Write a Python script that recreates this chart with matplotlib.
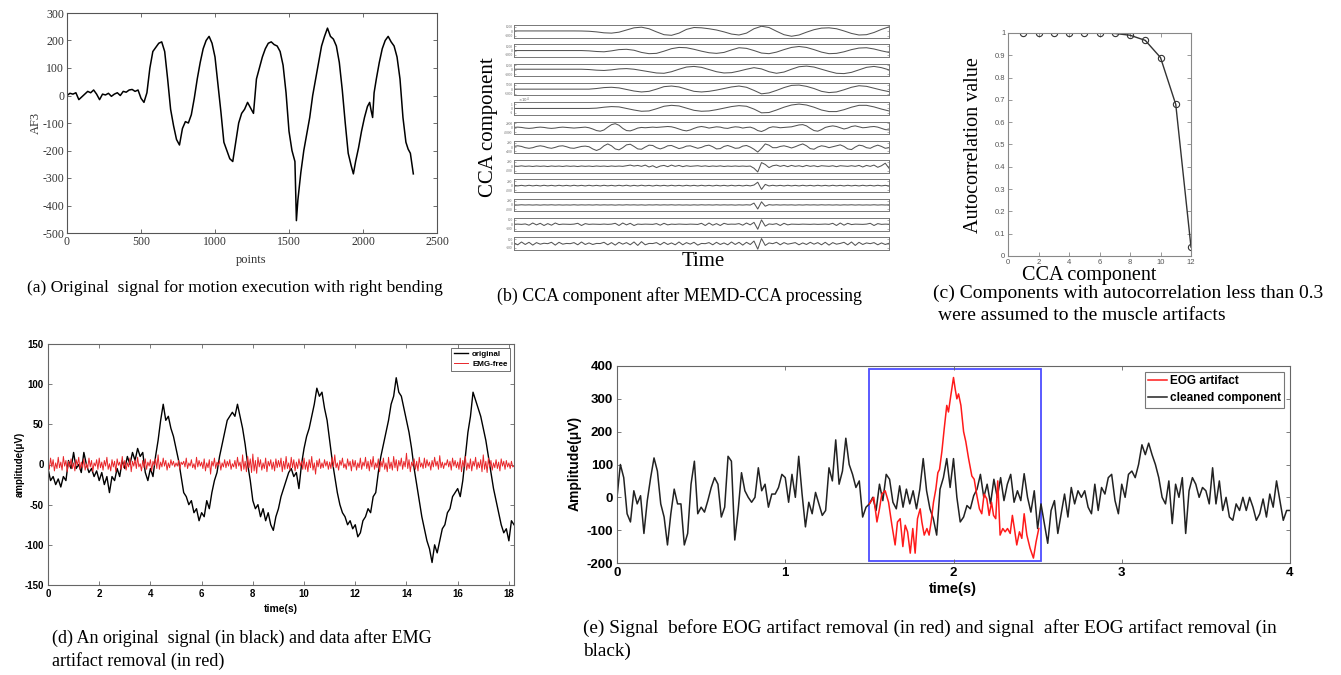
import numpy as np
import matplotlib
matplotlib.use('Agg')
import matplotlib.pyplot as plt
from matplotlib.patches import Rectangle

SERIF = 'Liberation Serif'
SANS = 'Liberation Sans'
plt.rcParams['font.family'] = [SERIF, 'DejaVu Sans']
plt.rcParams['axes.unicode_minus'] = False

W, H = 1341, 675

# ─── (a) original AF3 signal ────────────────────────────────────────────────
a_points = [0, 20, 40, 60, 80, 100, 120, 140, 160, 180, 200, 220, 240, 260, 280, 300,
            320, 340, 360, 380, 400, 420, 440, 460, 480, 500, 520, 540, 560, 580, 600,
            620, 640, 660, 680, 700, 720, 740, 760, 780, 800, 820, 840, 860, 880, 900,
            920, 940, 960, 980, 1000, 1020, 1040, 1060, 1080, 1100, 1120, 1140, 1160,
            1180, 1200, 1220, 1240, 1260, 1280, 1300, 1320, 1340, 1360, 1380, 1400,
            1420, 1440, 1460, 1480, 1500, 1520, 1540, 1550, 1560, 1580, 1600, 1620,
            1640, 1660, 1680, 1700, 1720, 1740, 1760, 1780, 1800, 1820, 1840, 1860,
            1880, 1900, 1920, 1935, 1950, 1970, 1990, 2010, 2030, 2045, 2055, 2065,
            2075, 2090, 2110, 2130, 2150, 2170, 2190, 2210, 2230, 2250, 2270, 2290,
            2305, 2320, 2340]
a_af3 = [0, 8, 5, 10, -15, -5, 5, 15, 10, 20, 5, -15, 5, 2, 8, -3,
         5, 10, 0, 15, 12, 20, 22, 15, 20, -10, -25, 10, 100, 160, 175,
         190, 195, 160, 60, -50, -110, -160, -180, -120, -95, -100, -70, -10, 60, 120,
         170, 200, 215, 190, 140, 40, -60, -170, -200, -230, -240, -170, -100,
         -65, -50, -25, -45, -65, 60, 100, 140, 170, 190, 195, 185,
         180, 160, 110, 10, -130, -200, -240, -455, -380, -280, -200, -140,
         -80, 0, 60, 120, 180, 215, 245, 215, 205, 180, 120, 20,
         -100, -210, -255, -285, -240, -190, -130, -80, -40, -25, -55, -80,
         10, 60, 120, 170, 200, 215, 195, 180, 140, 60, -80, -170,
         -195, -210, -285]

# ─── (b) CCA components (normalised to each strip) ─────────────────────────
cca_1 = [0.05, 0.05, 0.05, 0.05, 0.05, 0.05, 0.05, 0.05, 0.05, 0.04, 0.0,
         -0.1, -0.25, -0.3, -0.15, 0.2, 0.55, 0.65, 0.4, -0.1, -0.55, -0.65, -0.3, 0.3, 0.6,
         0.55, 0.4, 0.2, -0.1, -0.45, -0.6, -0.3, 0.4, 0.8, 0.6, 0.0, -0.55, -0.8, -0.6,
         -0.15, 0.25, 0.5, 0.55, 0.4, 0.05, -0.35, -0.6, -0.55, -0.2, 0.3, 0.7]
cca_2 = [0.0, 0.0, 0.0, 0.0, 0.0, 0.0, 0.0, 0.0, 0.0, 0.0,
         -0.05, -0.15, -0.2, -0.05, 0.15, 0.2, 0.05, -0.3, -0.5, -0.45, -0.1, 0.3, 0.5,
         0.45, 0.2, -0.1, -0.35, -0.45, -0.3, 0.1, 0.45, 0.35, 0.0, -0.4, -0.5, -0.25,
         0.15, 0.5, 0.65, 0.5, 0.15, -0.25, -0.5, -0.45, -0.2, 0.15, 0.4, 0.45, 0.25,
         -0.05, -0.3]
cca_3 = [0.1, 0.1, 0.1, 0.1, 0.1, 0.1, 0.1, 0.1, 0.1, 0.1,
         0.05, -0.05, -0.1, 0.0, 0.15, 0.2, 0.1, -0.1, -0.3, -0.5, -0.55, -0.3, 0.1,
         0.45, 0.55, 0.4, 0.05, -0.3, -0.5, -0.45, -0.2, 0.1, 0.35, 0.15, -0.3, -0.55,
         -0.35, 0.1, 0.5, 0.6, 0.45, 0.1, -0.25, -0.55, -0.6, -0.4, 0.0, 0.4, 0.55,
         0.35, 0.0]
cca_4 = [0.0, 0.0, 0.0, 0.0, 0.0, 0.0, 0.0, 0.0, 0.0, 0.0,
         0.0, 0.1, 0.25, 0.3, 0.2, -0.05, -0.3, -0.45, -0.35, 0.0, 0.4, 0.5, 0.35,
         0.0, -0.35, -0.45, -0.35, -0.15, 0.1, 0.35, 0.5, 0.3, -0.2, -0.75, -0.6, -0.2,
         0.25, 0.6, 0.65, 0.45, 0.1, -0.35, -0.55, -0.45, -0.1, 0.3, 0.55, 0.45, 0.15,
         -0.15, -0.4]
cca_5 = [0.0, 0.0, 0.0, 0.0, 0.0, 0.0, 0.0, 0.0, 0.0, 0.0,
         0.0, 0.05, 0.2, 0.3, 0.25, 0.0, -0.25, -0.45, -0.4, -0.05, 0.35, 0.5, 0.4,
         0.05, -0.3, -0.45, -0.4, -0.2, 0.05, 0.3, 0.45, 0.35, -0.1, -0.7, -0.65, -0.25,
         0.2, 0.55, 0.7, 0.55, 0.2, -0.25, -0.5, -0.5, -0.2, 0.2, 0.5, 0.5, 0.25,
         -0.1, -0.4]
cca_6 = [0.05, 0.1, 0.05, -0.05, -0.1, -0.05, 0.05, 0.1, 0.05, -0.05,
         -0.1, -0.05, 0.05, 0.1, 0.05, 0.0, -0.05, 0.0, 0.05, 0.1,
         0.0, -0.2, -0.45, -0.55, -0.35, 0.1, 0.5, 0.65, 0.4, -0.1,
         -0.45, -0.5, -0.3, -0.05, 0.05, 0.0, 0.05, 0.1, 0.05, 0.1,
         0.15, 0.2, 0.15, 0.0, -0.2, -0.4, -0.5, -0.35, -0.1, 0.1,
         0.2, 0.1, -0.05, 0.05, 0.15, 0.1, -0.05, -0.1, 0.05, 0.15,
         0.1, -0.05, 0.05, 0.1, -0.1, -0.45, -0.6, -0.35, 0.0, 0.15,
         0.1, 0.0, 0.05, 0.1, 0.15, 0.3, 0.45, 0.5, 0.3, -0.1,
         -0.45, -0.55, -0.3, 0.05, 0.2, 0.3, 0.2, 0.0, -0.2, -0.05,
         0.2, 0.3, 0.15, 0.0, 0.05, 0.15, 0.2, 0.1, -0.1, -0.3, -0.35]
cca_7 = [0.1, 0.2, 0.1, -0.1, -0.2, -0.1, 0.1, 0.2, 0.1, -0.1,
         -0.2, -0.05, 0.15, 0.2, 0.05, -0.15, -0.2, -0.05, 0.1, 0.15,
         0.05, -0.3, -0.55, -0.3, 0.2, 0.5, 0.2, -0.3, -0.45, -0.1,
         0.35, 0.45, 0.1, -0.3, -0.35, 0.0, 0.3, 0.25, -0.1, -0.3,
         -0.1, 0.2, 0.25, 0.0, -0.25, -0.1, 0.15, 0.2, 0.0, -0.2,
         -0.05, 0.2, 0.3, 0.05, -0.3, -0.25, 0.1, 0.25, 0.05, -0.2,
         -0.15, 0.15, 0.25, 0.0, -0.35, -0.8, -0.2, 0.5, 0.3, -0.1,
         -0.1, 0.1, 0.2, 0.05, -0.15, 0.05, 0.3, 0.5, 0.2, -0.25,
         -0.35, 0.0, 0.2, 0.1, -0.1, 0.05, 0.2, 0.35, 0.1, -0.3,
         -0.4, 0.0, 0.3, 0.2, -0.1, -0.2, 0.1, 0.3, 0.1, -0.2, -0.1]
cca_8 = [0.05, 0.0, 0.08, 0.0, 0.05, -0.02, 0.06, 0.0, 0.05, -0.03,
         0.06, 0.0, 0.05, -0.02, 0.07, 0.0, 0.05, -0.03, 0.06, 0.0,
         0.05, -0.02, 0.06, 0.0, 0.05, -0.02, 0.06, 0.0, 0.05, 0.0,
         0.1, 0.2, 0.05, 0.15, 0.0, 0.2, -0.1, 0.1, -0.2, 0.05,
         0.15, -0.05, 0.2, 0.0, 0.15, -0.05, 0.1, 0.0, 0.05, 0.1,
         0.0, 0.08, -0.02, 0.06, 0.0, 0.08, -0.02, 0.05, 0.0, 0.06,
         0.0, 0.05, 0.0, 0.05, -0.3, -0.9, 0.6, 0.3, -0.2, 0.1,
         0.2, 0.0, 0.15, -0.05, 0.15, 0.0, 0.1, -0.05, 0.15, 0.0,
         0.1, -0.05, 0.1, 0.05, 0.0, 0.1, -0.05, 0.1, 0.05, 0.0,
         0.1, 0.0, 0.15, -0.1, 0.15, 0.0, 0.2, -0.15, 0.1, 0.5, -0.3]
cca_9 = [0.06, -0.04, 0.05, -0.05, 0.06, -0.04, 0.05, -0.05, 0.06, -0.04,
         0.05, -0.05, 0.06, -0.04, 0.05, -0.05, 0.06, -0.04, 0.05, -0.05,
         0.06, -0.04, 0.05, -0.05, 0.06, -0.04, 0.05, -0.05, 0.06, -0.04,
         0.07, -0.06, 0.05, -0.05, 0.07, -0.04, 0.05, -0.06, 0.06, -0.04,
         0.05, -0.05, 0.06, -0.04, 0.05, -0.05, 0.06, -0.04, 0.05, -0.05,
         0.06, -0.04, 0.05, -0.05, 0.06, -0.04, 0.05, -0.05, 0.06, -0.04,
         0.05, -0.05, 0.06, -0.04, 0.1, 0.55, -0.6, 0.2, -0.05, 0.06,
         -0.04, 0.05, -0.05, 0.06, -0.04, 0.05, -0.05, 0.06, -0.04, 0.05,
         -0.05, 0.06, -0.04, 0.05, -0.05, 0.06, -0.04, 0.05, -0.05, 0.06,
         -0.04, 0.05, -0.05, 0.06, -0.04, 0.05, -0.05, 0.06, -0.04, 0.05, -0.05]
cca_10 = [0.02, -0.02, 0.03, -0.01, 0.02, -0.02, 0.02, -0.03, 0.02, -0.01,
          0.03, -0.02, 0.02, -0.02, 0.01, -0.02, 0.03, -0.02, 0.02, -0.01,
          0.02, -0.02, 0.03, -0.02, 0.02, -0.01, 0.02, -0.03, 0.02, -0.02,
          0.03, -0.01, 0.02, -0.02, 0.02, -0.03, 0.02, -0.01, 0.03, -0.02,
          0.02, -0.01, 0.03, -0.02, 0.02, -0.02, 0.01, -0.03, 0.02, -0.02,
          0.03, -0.01, 0.02, -0.02, 0.03, -0.02, 0.02, -0.01, 0.02, -0.03,
          0.02, -0.02, 0.03, -0.02, 0.3, -0.65, 0.5, -0.2, 0.05, -0.02,
          0.03, -0.02, 0.02, -0.01, 0.02, -0.03, 0.02, -0.02, 0.03, -0.01,
          0.02, -0.02, 0.03, -0.01, 0.02, -0.02, 0.02, -0.03, 0.02, -0.01,
          0.03, -0.02, 0.02, -0.02, 0.01, -0.02, 0.03, -0.02, 0.02, -0.01, 0.02]
cca_11 = [0.0, 0.02, -0.02, 0.05, -0.15, 0.2, -0.1, 0.15, -0.2, 0.1,
          -0.15, 0.2, -0.05, 0.02, 0.0, -0.02, 0.02, 0.15, -0.2, 0.1,
          -0.02, 0.02, 0.0, -0.02, 0.03, -0.02, 0.02, 0.15, -0.2, 0.2,
          -0.1, 0.15, -0.2, 0.03, -0.02, 0.02, 0.0, -0.02, 0.1, -0.15,
          0.15, -0.1, 0.02, -0.02, 0.03, 0.0, -0.02, 0.02, 0.0, -0.03,
          0.15, -0.2, 0.2, -0.15, 0.1, -0.2, 0.15, -0.02, 0.02, 0.0,
          0.1, -0.15, 0.2, -0.1, 0.3, -0.8, 0.7, -0.3, 0.05, -0.02,
          0.1, -0.2, 0.15, -0.1, 0.02, 0.0, -0.02, 0.02, 0.0, -0.02,
          0.02, -0.02, 0.0, 0.03, -0.02, 0.15, -0.2, 0.2, -0.15, 0.15,
          -0.05, 0.02, 0.0, -0.02, 0.02, 0.15, -0.2, 0.1, -0.02, 0.02, 0.0]
cca_12 = [0.1, -0.2, 0.25, -0.15, 0.2, -0.25, 0.15, -0.1, 0.05, -0.02,
          0.2, -0.25, 0.2, -0.1, 0.02, -0.02, 0.15, -0.2, 0.25, -0.15,
          0.1, -0.15, 0.02, 0.0, 0.2, -0.2, 0.15, -0.25, 0.2, -0.1,
          0.15, -0.2, 0.25, -0.3, 0.3, -0.2, 0.02, 0.0, 0.15, -0.2,
          0.2, -0.15, 0.1, -0.2, 0.25, -0.2, 0.15, -0.1, 0.2, -0.25,
          0.02, -0.02, 0.15, -0.2, 0.2, -0.15, 0.1, -0.2, 0.25, -0.15,
          0.2, -0.25, 0.2, -0.15, 0.4, -0.9, 0.8, -0.3, 0.1, -0.02,
          0.2, -0.2, 0.15, -0.1, 0.02, 0.15, -0.2, 0.1, -0.15, 0.2,
          -0.1, 0.15, -0.2, 0.2, -0.25, 0.15, -0.1, 0.02, 0.2, -0.2,
          0.25, -0.3, 0.2, -0.15, 0.1, -0.02, 0.15, -0.2, 0.1, -0.15, 0.05]
cca_series = [cca_1, cca_2, cca_3, cca_4, cca_5, cca_6,
              cca_7, cca_8, cca_9, cca_10, cca_11, cca_12]
cca_ticklabels = [['1000', '0', '-1000'], ['1000', '0', '-1000'], ['1000', '0', '-1000'],
                  ['5000', '0', '-5000'], ['1', '0', '-1'], ['2000', '0', '-2000'],
                  ['200', '0', '-400'], ['200', '0', '-200'], ['200', '0', '-200'],
                  ['200', '0', '-200'], ['100', '0', '-100'], ['100', '0', '-100']]

# ─── (c) autocorrelation per component ─────────────────────────────────────
c_component = [1, 2, 3, 4, 5, 6, 7, 8, 9, 10, 11, 12]
c_autocorr = [1.0, 1.0, 1.0, 1.0, 1.0, 1.0, 0.998, 0.99, 0.967, 0.89, 0.68, 0.04]

# ─── (d) original vs EMG-free (sampled every 0.1 s / 0.05 s) ───────────────
d_original = [-5, -20, -15, -25, -18, -28, -15, -20, 5, -5, 15, -5, 0, -10, 15, 0, -10, -5,
              -15, -8, -20, -10, -25, -15, -35, -15, -20, -5, -15, 5, -5, 10, 0, 15, 5, 20,
              10, 15, -10, -20, -5, -15, 10, 30, 55, 75, 55, 60, 45, 35, 20, 5, -15, -35,
              -40, -50, -45, -60, -55, -70, -60, -65, -45, -55, -35, -20, -10, 10, 25, 40,
              55, 60, 65, 60, 75, 60, 45, 25, 0, -20, -45, -55, -50, -65, -55, -70, -60,
              -75, -82, -65, -55, -40, -30, -20, -10, -5, -15, -10, -30, 0, 20, 35, 45, 60,
              75, 95, 85, 90, 70, 55, 30, 5, -15, -35, -50, -60, -65, -75, -70, -80, -75,
              -90, -85, -70, -65, -55, -60, -40, -35, -10, 10, 25, 40, 55, 75, 85, 108, 90,
              85, 70, 55, 40, 20, -5, -25, -45, -65, -80, -95, -105, -122, -100, -110, -95,
              -80, -75, -60, -55, -40, -35, -30, -40, -20, 10, 40, 60, 90, 80, 70, 60, 45,
              30, 10, -10, -30, -45, -60, -75, -85, -80, -95, -70, -75]
d_emg_free = [4, -6, 8, -3, 6, -8, 2, -5, 9, -4, 3, -7, 10, -2, 5, -9, 4, -3, 7, -5,
              2, -8, 6, -1, 9, -6, 3, -4, 7, -7, 1, -5, 8, -3, 5, -9, 2, -2, 6, -6,
              8, -4, 3, -7, 5, -2, 9, -6, 1, -8, 6, -3, 4, -9, 7, -1, 3, -6, 10, -4,
              5, -7, 2, -3, 8, -9, 4, -2, 6, -5, 9, -3, 1, -8, 5, -4, 7, -6, 3, -2,
              6, -8, 4, -1, 7, -5, 12, -6, 3, -3, 8, -2, 5, -7, 2, -4, 6, -1, 4, -3,
              2, -2, 5, -6, 3, 0, 4, -3, 8, -5, 2, -2, 6, -4, 1, -6, 9, -3, 5, -2,
              3, -5, 7, -8, 2, -4, 6, -12, 4, -2, 8, -5, 3, -1, 5, -7, 2, -3, 6, -4,
              4, -2, 6, -6, 1, -3, 5, -5, 9, -2, 3, -8, 12, -6, 4, -9, 10, -4, 7, -10,
              13, -8, 5, -11, 9, -3, 6, -7, 2, -5, 8, -9, 4, -2, 6, -6, 3, -8, 7, -4,
              5, -3, 8, -9, 4, -6, 10, -5, 2, -7, 9, -4, 6, -8, 3, -5, 7, -2, 4, -6,
              8, -6, 3, -9, 6, -4, 10, -7, 2, -12, 5, -3, 7, -5, 2, -4, 6, -2, 4, -6,
              3, -5, 9, -3, 12, -4, 2, -7, 5, -1, 8, -4, 1, -6, 7, -2, 4, -8, 6, -3,
              5, -7, 2, -4, 8, -6, 3, -2, 9, -5, 4, -8, 6, -3, 10, -6, 2, -4, 7, -9,
              4, -3, 8, -6, 2, -9, 9, -5, 3, -7, 10, -4, 6, -8, 5, -2, 8, -6, 4, -3,
              14, -5, 6, -9, 3, -2, 7, -6, 4, -8, 9, -3, 2, -5, 8, -4, 6, -2, 3, -7,
              5, -3, 9, -2, 4, -6, 11, -4, 3, -5, 2, -1, 6, -3, 4, -7, 8, -2, 5, -4,
              3, -6, 8, -9, 5, -3, 10, -7, 2, -5, 7, -8, 4, -2, 9, -6, 3, -4, 6, -9,
              12, -6, 4, -10, 8, -3, 5, -7, 2, -4, 6, -5, 3, -8, 7, -2, 4, -6, 5, -3,
              2, -5, 4, -3, -2]

# ─── (e) EOG artifact removal (every 0.02 s) ───────────────────────────────
e_cleaned = [0, 100, 60, -50, -75, 20, -20, 5, -110, -10, 60, 120, 80, -20, -60, -145, -50, 25, -20, -20,
             -145, -110, 40, 110, -50, -30, -45, -10, 30, 60, 40, -60, -30, 125, 110, -130, -40, 75, 20, 0,
             -15, 0, 90, 20, 40, -30, 10, 10, 30, 70, 60, -15, 70, 0, 125, 10, -90, -15, -50, 15,
             -20, -55, -40, 90, 50, 175, 40, 80, 180, 100, 70, 30, 50, -60, -30, -20, 0, -40, 40, -10,
             70, 55, -15, -35, 35, -30, 25, -20, 20, -35, 25, 118, 20, -35, -65, -115, 25, 60, 118, 30,
             118, 0, -75, -60, -25, -35, 5, 25, 70, 0, 40, -20, 55, 0, 60, -10, 40, 70, -15, 20,
             -10, 72, 0, -45, 20, -95, -20, -80, -140, -40, -10, -110, -50, 10, -60, 30, -20, 20, 0, 20,
             -30, -50, 40, -40, 30, 10, 60, 70, -10, -50, 40, 0, 70, 80, 60, 100, 160, 130, 165, 130,
             100, 60, 0, -20, 50, -80, 40, 0, 60, -110, 20, 60, 40, 0, 30, 20, -20, 90, -20, 50,
             -40, 0, -60, -70, -20, -40, 0, -40, 0, -30, -70, -50, -5, -60, 10, -30, 50, -10, -70, -40, -40]
e_artifact_t = [1.5, 1.526, 1.545, 1.56, 1.574, 1.594, 1.614, 1.634, 1.653, 1.667,
                1.683, 1.699, 1.713, 1.727, 1.743, 1.758, 1.772, 1.786, 1.802, 1.812,
                1.826, 1.842, 1.855, 1.867, 1.881, 1.895, 1.907, 1.917, 1.931, 1.945,
                1.96, 1.97, 1.984, 2.0, 2.01, 2.02, 2.03, 2.044, 2.06, 2.073,
                2.089, 2.109, 2.123, 2.139, 2.154, 2.168, 2.182, 2.198, 2.212, 2.226,
                2.238, 2.251, 2.263, 2.277, 2.293, 2.307, 2.321, 2.337, 2.35, 2.362,
                2.376, 2.392, 2.406, 2.42, 2.436, 2.455, 2.475, 2.491, 2.507]
e_artifact = [-20, 0, -75, -35, 10, 20, -15, -85, -145, -75,
              -65, -150, -85, -105, -170, -95, -170, -65, -35, -75,
              -115, -95, -115, -75, -15, 25, 75, 85, 140, 210,
              280, 260, 310, 365, 330, 300, 315, 280, 200, 170,
              120, 65, 55, 5, -35, -50, 10, -5, -55, -15,
              -55, -65, 50, -115, -95, -105, -95, -110, -55, -95,
              -145, -105, -125, -50, -115, -155, -185, -135, -95]
e_window = (1.5, 2.52, -193, 392)


def box(x0, y0, x1, y1):
    return [x0 / W, 1 - y1 / H, (x1 - x0) / W, (y1 - y0) / H]


def put(x, y, s, **kw):
    kw.setdefault('ha', 'center')
    kw.setdefault('va', 'center')
    fig.text(x / W, 1 - y / H, s, **kw)


def matlab_box(ax, color='#666666'):
    for sp in ax.spines.values():
        sp.set_color(color)
        sp.set_linewidth(0.8)
    ax.tick_params(direction='in', top=True, right=True, length=3, width=0.6, color=color)


fig = plt.figure(figsize=(W / 100, H / 100), dpi=100)

# ─── (a) ───────────────────────────────────────────────────────────────────
ax = fig.add_axes(box(67, 13, 437, 233))
ax.plot(a_points, a_af3, color='black', lw=1.1)
ax.set_xlim(0, 2500)
ax.set_ylim(-500, 300)
ax.set_xticks(range(0, 2501, 500))
ax.set_yticks(range(-500, 301, 100))
matlab_box(ax, '#555555')
ax.tick_params(labelsize=8.5, labelcolor='#333333', pad=2)
put(36, 123, 'AF3', rotation=90, fontsize=9, color='#333333')
put(251, 260, 'points', fontsize=9, color='#333333')
put(27, 288, '(a) Original  signal for motion execution with right bending',
    ha='left', fontsize=12.5)

# ─── (b) ───────────────────────────────────────────────────────────────────
for i, vals in enumerate(cca_series):
    top = 25 + 19.3 * i
    sx = fig.add_axes(box(514, top, 889, top + 12.5))
    sx.plot(np.linspace(0, 1, len(vals)), vals, color='#555555', lw=0.75)
    sx.set_xlim(0, 1)
    sx.set_ylim(-1, 1)
    sx.set_xticks([])
    sx.set_yticks([0.7, 0, -0.7])
    sx.set_yticklabels(cca_ticklabels[i])
    for sp in sx.spines.values():
        sp.set_color('#777777')
        sp.set_linewidth(0.7)
    sx.tick_params(axis='y', direction='in', right=True, length=1.5, width=0.4,
                   labelsize=2.6, labelcolor='#666666', pad=1, color='#777777')
    if i == 4:
        put(518, top - 2, r'$\times10^4$', fontsize=2.8, color='#666666', ha='left')
put(488, 127, 'CCA component', rotation=90, fontsize=15)
put(703, 261, 'Time', fontsize=15)
put(497, 296, '(b) CCA component after MEMD-CCA processing', ha='left', fontsize=12.9)

# ─── (c) ───────────────────────────────────────────────────────────────────
ax = fig.add_axes(box(1008, 33, 1191, 256))
ax.plot(c_component, c_autocorr, color='#333333', lw=1.0, marker='o', ms=4.5,
        mfc='none', mec='#333333', mew=0.8)
ax.set_xlim(0, 12)
ax.set_ylim(0, 1)
ax.set_xticks(range(0, 13, 2))
ax.set_yticks(np.linspace(0, 1, 11))
ax.set_yticklabels(['0', '0.1', '0.2', '0.3', '0.4', '0.5', '0.6', '0.7', '0.8', '0.9', '1'])
matlab_box(ax, '#888888')
ax.tick_params(labelsize=5.5, labelcolor='#555555', pad=2, labelfontfamily=SANS)
put(973, 145, 'Autocorrelation value', rotation=90, fontsize=14.5)
put(1089, 266, 'CCA component', fontsize=14.5, va='top')
put(933, 293, '(c) Components with autocorrelation less than 0.3', ha='left', fontsize=14)
put(938, 315, 'were assumed to the muscle artifacts', ha='left', fontsize=14)

# ─── (d) ───────────────────────────────────────────────────────────────────
ax = fig.add_axes(box(48, 344, 514, 585))
t_orig = np.linspace(0, 18.2, len(d_original))
t_emg = np.linspace(0, 18.2, len(d_emg_free))
ax.plot(t_orig, d_original, color='black', lw=1.0, label='original')
ax.plot(t_emg, d_emg_free, color='#e8262a', lw=0.7, label='EMG-free')
ax.set_xlim(0, 18.2)
ax.set_ylim(-150, 150)
ax.set_xticks(range(0, 19, 2))
ax.set_yticks(range(-150, 151, 50))
matlab_box(ax, '#666666')
ax.tick_params(labelsize=7, pad=3, labelfontfamily=SANS)
for lab in ax.get_xticklabels() + ax.get_yticklabels():
    lab.set_fontweight('bold')
leg = ax.legend(loc='upper right', prop={'family': SANS, 'size': 5.8, 'weight': 'bold'},
                fancybox=False, edgecolor='#333333', handlelength=1.8, borderpad=0.3,
                labelspacing=0.3, handletextpad=0.5, borderaxespad=0.5)
leg.get_frame().set_linewidth(0.6)
put(20, 464, 'amplitude(μV)', rotation=90, fontsize=7, fontweight='bold', family=SANS)
put(281, 609, 'time(s)', fontsize=7.5, fontweight='bold', family=SANS)
put(52, 638, '(d) An original  signal (in black) and data after EMG', ha='left', fontsize=13)
put(52, 661, 'artifact removal (in red)', ha='left', fontsize=13)

# ─── (e) ───────────────────────────────────────────────────────────────────
ax = fig.add_axes(box(617, 366, 1290, 563))
ax.plot(np.linspace(0, 4, len(e_cleaned)), e_cleaned, color='#222222', lw=1.1,
        label='cleaned component')
ax.plot(e_artifact_t, e_artifact, color='#ff1a1a', lw=1.1, label='EOG artifact')
x0, x1, y0, y1 = e_window
ax.add_patch(Rectangle((x0, y0), x1 - x0, y1 - y0, fill=False,
                       edgecolor='#4d4dff', lw=1.3))
ax.set_xlim(0, 4)
ax.set_ylim(-200, 400)
ax.set_xticks(range(0, 5))
ax.set_yticks(range(-200, 401, 100))
matlab_box(ax, '#666666')
ax.tick_params(labelsize=9.5, pad=3, labelfontfamily=SANS)
for lab in ax.get_xticklabels() + ax.get_yticklabels():
    lab.set_fontweight('bold')
h, l = ax.get_legend_handles_labels()
leg = ax.legend(h[::-1], l[::-1], loc='upper right',
                prop={'family': SANS, 'size': 8.5, 'weight': 'bold'},
                fancybox=False, edgecolor='#555555', handlelength=1.6, borderpad=0.3,
                labelspacing=0.4, handletextpad=0.2, borderaxespad=0.5)
leg.get_frame().set_linewidth(0.8)
put(575, 463, 'Amplitude(μV)', rotation=90, fontsize=10, fontweight='bold', family=SANS)
put(953, 589, 'time(s)', fontsize=10.5, fontweight='bold', family=SANS)
put(583, 628, '(e) Signal  before EOG artifact removal (in red) and signal  after EOG artifact removal (in',
    ha='left', fontsize=13.9)
put(583, 651, 'black)', ha='left', fontsize=13.9)

fig.savefig('out.png', dpi=100)
